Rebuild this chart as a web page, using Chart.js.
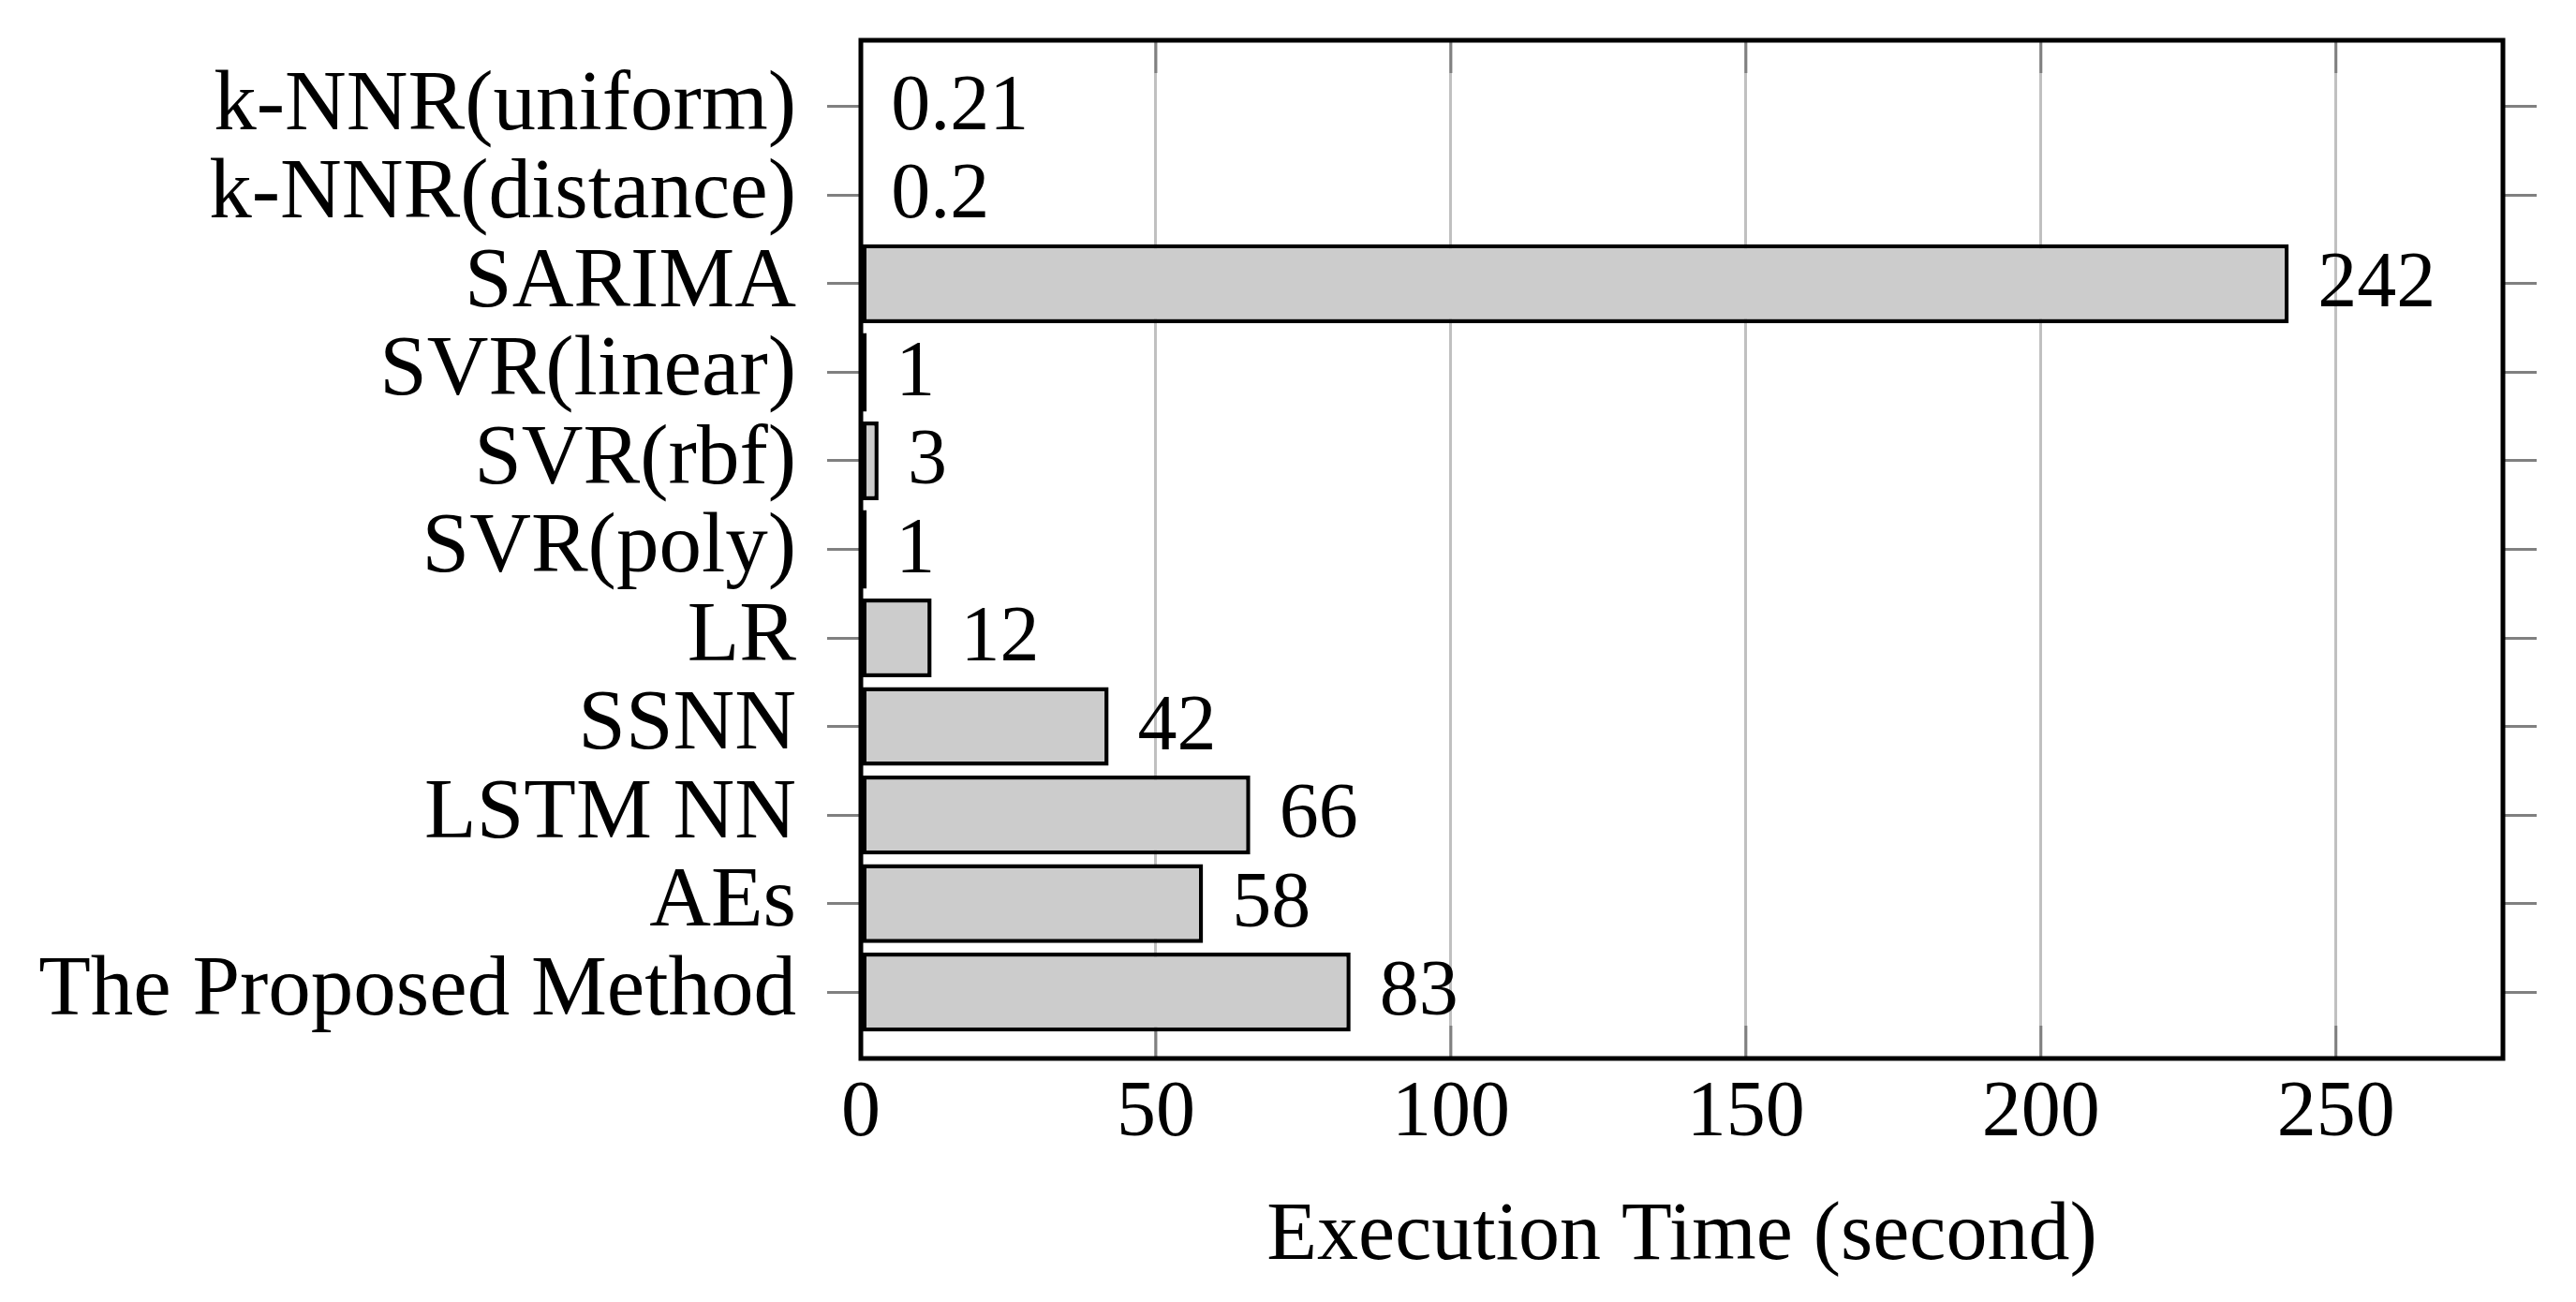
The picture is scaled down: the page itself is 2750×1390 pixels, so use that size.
<!DOCTYPE html>
<html>
<head>
<meta charset="utf-8">
<script src="https://cdn.jsdelivr.net/npm/chart.js@4/dist/chart.umd.min.js"></script>
<style>
  html, body { margin: 0; padding: 0; background: #fff; }
  canvas { display: block; }
</style>
</head>
<body>
<canvas id="timeChart" width="2750" height="1390"></canvas>
<script>
const categories = [
    "k-NNR(uniform)", "k-NNR(distance)", "SARIMA", "SVR(linear)", "SVR(rbf)",
    "SVR(poly)", "LR", "SSNN", "LSTM NN", "AEs", "The Proposed Method"
];
const times = [0.21, 0.2, 242, 1, 3, 1, 12, 42, 66, 58, 83];
const xTicks = [0, 50, 100, 150, 200, 250];
const xMax = 278.3;

const FONT = "'Liberation Serif', 'Times New Roman', serif";
const NUM_SIZE = 84;   // digits
const TEXT_SIZE = 91;  // category names

// box round the plot + inner tick marks on the x axis + value labels
const framePlugin = {
    id: "frame",
    beforeDatasetsDraw(chart) {
        const { ctx, chartArea: a, scales } = chart;
        ctx.save();
        ctx.strokeStyle = "#808080";
        ctx.lineWidth = 3;
        xTicks.forEach(v => {
            const px = scales.x.getPixelForValue(v);
            ctx.beginPath();
            ctx.moveTo(px, a.top);
            ctx.lineTo(px, a.top + 35);
            ctx.moveTo(px, a.bottom);
            ctx.lineTo(px, a.bottom - 35);
            ctx.stroke();
        });
        ctx.restore();
    },
    afterDatasetsDraw(chart) {
        const { ctx, chartArea: a } = chart;
        const meta = chart.getDatasetMeta(0);
        ctx.save();
        ctx.fillStyle = "#000";
        ctx.font = NUM_SIZE + "px " + FONT;
        ctx.textAlign = "left";
        ctx.textBaseline = "middle";
        meta.data.forEach((bar, i) => {
            ctx.fillText(String(times[i]), bar.x + 31, bar.y + 2);
        });
        ctx.strokeStyle = "#000";
        ctx.lineWidth = 5;
        ctx.strokeRect(a.left, a.top, a.right - a.left, a.bottom - a.top);
        ctx.restore();
    }
};

const yTicks = s => { s.ticks = categories.map((c, i) => ({ value: i })); };
const noPad = s => { s.paddingTop = 0; s.paddingBottom = 0; s.paddingLeft = 0; s.paddingRight = 0; };

new Chart(document.getElementById("timeChart").getContext("2d"), {
    type: "bar",
    data: {
        datasets: [{
            data: categories.map((c, i) => ({ x: times[i], y: i })),
            backgroundColor: "#cccccc",
            borderColor: "#000000",
            borderWidth: 4.5,
            borderSkipped: false,
            categoryPercentage: 1,
            barPercentage: 0.89
        }]
    },
    options: {
        indexAxis: "y",
        responsive: false,
        animation: false,
        devicePixelRatio: 1,
        layout: { padding: { top: 43, left: 0, right: 0, bottom: 0 } },
        plugins: {
            legend: { display: false },
            tooltip: { enabled: false }
        },
        scales: {
            x: {
                type: "linear",
                min: 0,
                max: xMax,
                afterBuildTicks: s => { s.ticks = xTicks.map(v => ({ value: v })); },
                afterFit: s => { noPad(s); s.height = 260; },
                grid: { color: "#c0c0c0", lineWidth: 3, drawTicks: false },
                border: { display: false },
                ticks: {
                    color: "#000",
                    font: { family: FONT, size: NUM_SIZE },
                    padding: 10,
                    maxRotation: 0,
                    autoSkip: false
                },
                title: {
                    display: true,
                    text: "Execution Time (second)",
                    color: "#000",
                    font: { family: FONT, size: 88 },
                    padding: { top: 0, bottom: 16 }
                }
            },
            y: {
                type: "linear",
                min: -0.75,
                max: 10.75,
                reverse: true,
                offset: false,
                afterBuildTicks: yTicks,
                afterFit: s => { noPad(s); s.width = 919; },
                grid: {
                    offset: false,
                    drawOnChartArea: false,
                    drawTicks: true,
                    tickLength: 36,
                    tickColor: "#808080",
                    tickWidth: 3
                },
                border: { display: false },
                ticks: {
                    color: "#000",
                    font: { family: FONT, size: TEXT_SIZE },
                    padding: 33,
                    autoSkip: false,
                    callback: v => categories[v]
                }
            },
            y2: {
                type: "linear",
                position: "right",
                min: -0.75,
                max: 10.75,
                reverse: true,
                offset: false,
                afterBuildTicks: yTicks,
                afterFit: s => { noPad(s); s.width = 78; },
                grid: {
                    offset: false,
                    drawOnChartArea: false,
                    drawTicks: true,
                    tickLength: 36,
                    tickColor: "#808080",
                    tickWidth: 3
                },
                border: { display: false },
                ticks: { display: false }
            }
        }
    },
    plugins: [framePlugin]
});
</script>
</body>
</html>
